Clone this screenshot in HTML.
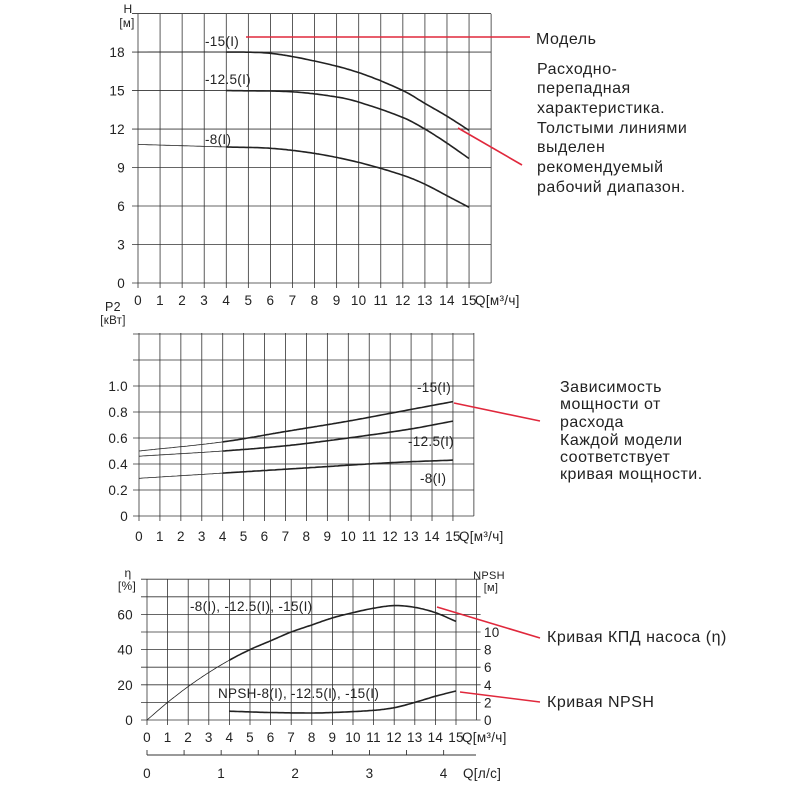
<!DOCTYPE html>
<html><head><meta charset="utf-8"><style>
html,body{margin:0;padding:0;background:#fff;}
svg{display:block;font-family:"Liberation Sans",sans-serif;}
</style></head><body>
<svg id="s" width="800" height="800" viewBox="0 0 800 800" xmlns="http://www.w3.org/2000/svg">
<rect width="800" height="800" fill="#fff"/>
<g id="g"></g>
<g stroke="#e0283c" stroke-width="1.6" fill="none">
<line x1="246" y1="37" x2="530" y2="37"/>
<line x1="458" y1="128" x2="522" y2="165"/>
<line x1="454" y1="403" x2="540" y2="421"/>
<line x1="437" y1="607" x2="540" y2="638"/>
<line x1="460" y1="692" x2="540" y2="702"/>
</g>
<g font-size="16" fill="#222" letter-spacing="0.5">
<text x="536" y="44">Модель</text>
<text x="537" y="74">Расходно-</text>
<text x="537" y="93">перепадная</text>
<text x="537" y="113">характеристика.</text>
<text x="537" y="133">Толстыми линиями</text>
<text x="537" y="152">выделен</text>
<text x="537" y="172">рекомендуемый</text>
<text x="537" y="192">рабочий диапазон.</text>
<text x="560" y="392">Зависимость</text>
<text x="560" y="409">мощности от</text>
<text x="560" y="427">расхода</text>
<text x="560" y="445">Каждой модели</text>
<text x="560" y="462">соответствует</text>
<text x="560" y="479">кривая мощности.</text>
<text x="547" y="642">Кривая КПД насоса (η)</text>
<text x="547" y="707">Кривая NPSH</text>
</g>
</svg>
<script>
const g=document.getElementById('g');let h='';
function L(x1,y1,x2,y2,w,c){h+=`<line x1="${x1}" y1="${y1}" x2="${x2}" y2="${y2}" stroke="${c||'#333'}" stroke-width="${w||0.8}"/>`;}
function T(x,y,t,a,s,ls){h+=`<text x="${x}" y="${y}" font-size="${s||13.5}" text-anchor="${a||'start'}" fill="#222" letter-spacing="${ls||0.3}">${t}</text>`;}
function P(pts,w){let d='M'+pts.map(p=>p[0].toFixed(1)+','+p[1].toFixed(1)).join(' L');h+=`<path d="${d}" fill="none" stroke="#222" stroke-width="${w}" stroke-linejoin="round"/>`;}
function interp(pts,fx,fy,a,b){let out=[];for(let q=a;q<=b+1e-9;q+=0.1){let i=0;while(i<pts.length-2&&q>pts[i+1][0])i++;
 let p0=pts[Math.max(0,i-1)],p1=pts[i],p2=pts[i+1],p3=pts[Math.min(pts.length-1,i+2)];let t=(q-p1[0])/(p2[0]-p1[0]);
 let m1=(p2[1]-p0[1])/(p2[0]-p0[0]||1)*(p2[0]-p1[0]),m2=(p3[1]-p1[1])/(p3[0]-p1[0]||1)*(p2[0]-p1[0]);
 if(i==0)m1=(p2[1]-p1[1]);if(i+2>pts.length-1)m2=(p2[1]-p1[1]);
 let t2=t*t,t3=t2*t;let v=(2*t3-3*t2+1)*p1[1]+(t3-2*t2+t)*m1+(-2*t3+3*t2)*p2[1]+(t3-t2)*m2;
 out.push([fx(q),fy(v)]);}return out;}
function curve(pts,fx,fy,thinTo){let a=pts[0][0],b=pts[pts.length-1][0];if(thinTo>a)P(interp(pts,fx,fy,a,thinTo),0.8);P(interp(pts,fx,fy,Math.max(a,thinTo),b),1.6);}
// Chart 1
{let x=q=>138+22.07*q,y=v=>283-12.83*v;
for(let i=0;i<=16;i++)L(x(i),14,x(i),i<16?288:283);
for(let v=0;v<=21;v+=3)L(132,y(v),x(16),y(v));
for(let v=0;v<=18;v+=3)T(125,y(v)+5,v,'end');
T(128,13,'H','middle',12);T(127,27,'[м]','middle',11.5);
for(let i=0;i<=15;i++)T(x(i),305,i,'middle');T(x(15)+6,305,'Q[м³/ч]','start');
curve([[0,18],[4,18],[6,17.9],[8,17.3],[10,16.4],[12,15],[13,14],[14,13],[15,11.9]],x,y,4);
curve([[4,15],[7,14.9],[9,14.5],[10,14.1],[12,12.9],[13,12],[14,10.9],[15,9.7]],x,y,0);
curve([[0,10.8],[4,10.6],[6,10.5],[8,10.1],[10,9.4],[12,8.4],[13,7.7],[14,6.8],[15,5.9]],x,y,4);
T(205,46,'-15(I)');T(205,84,'-12.5(I)');T(205,144,'-8(I)');}
// Chart 2
{let x=q=>139+20.93*q,y=v=>516-130*v;
for(let i=0;i<=16;i++)L(x(i),333,x(i),i<16?521:516);
for(let k=0;k<=7;k++)L(133,y(k*0.2),x(16),y(k*0.2));
['0','0.2','0.4','0.6','0.8','1.0'].forEach((t,k)=>T(128,y(k*0.2)+5,t,'end'));
T(113,311,'P2','middle',12.5);T(113,324,'[кВт]','middle',11.5);
for(let i=0;i<=15;i++)T(x(i),541,i,'middle');T(x(15)+6,541,'Q[м³/ч]','start');
curve([[0,0.5],[4,0.57],[7,0.65],[10,0.73],[13,0.82],[15,0.88]],x,y,4);
curve([[0,0.46],[4,0.5],[7,0.54],[10,0.6],[13,0.67],[15,0.73]],x,y,4);
curve([[0,0.29],[4,0.33],[8,0.37],[12,0.41],[15,0.43]],x,y,4);
T(417,392,'-15(I)');T(408,446,'-12.5(I)');T(420,483,'-8(I)');}
// Chart 3
{let x=q=>147+20.6*q,y=v=>720-1.76*v,yn=n=>720-8.8*n;
for(let i=0;i<=16;i++)L(x(i),579,x(i),i<16?725:720);
for(let k=0;k<=8;k++)L(141,y(k*10),x(16)+4,y(k*10));
[0,20,40,60].forEach(v=>T(133,y(v)+5,v,'end'));
T(128,577,'η','middle',12);T(127,590,'[%]','middle',12);
T(489,579,'NPSH','middle',11);T(491,591,'[м]','middle',11);
[0,2,4,6,8,10].forEach(n=>T(484,yn(n)+5,n,'start'));
for(let i=0;i<=15;i++)T(x(i),742,i,'middle');T(x(15)+6,742,'Q[м³/ч]','start');
L(147,755,476,755,0.9);
for(let k=0;k<=9;k++){let xx=147+k*0.5*3.6*20.6;if(xx<478)L(xx,750,xx,755,0.9);}
for(let k=0;k<=4;k++)T(147+k*3.6*20.6,778,k,'middle');T(463,778,'Q[л/с]','start');
curve([[0,0],[1,10],[2,19],[3,27],[4,34],[5,40],[6,45],[7,50],[8,54],[9,58],[10,61],[11,63.5],[12,65],[13,64],[14,61],[15,56]],x,y,4);
curve([[4,1],[6,0.85],[8,0.8],[9,0.85],[11,1.1],[12,1.4],[13,2],[14,2.7],[15,3.3]],x,yn,0);
T(190,611,'-8(I), -12.5(I), -15(I)');T(218,698,'NPSH-8(I), -12.5(I), -15(I)');}
g.innerHTML=h;
</script>
</body></html>
